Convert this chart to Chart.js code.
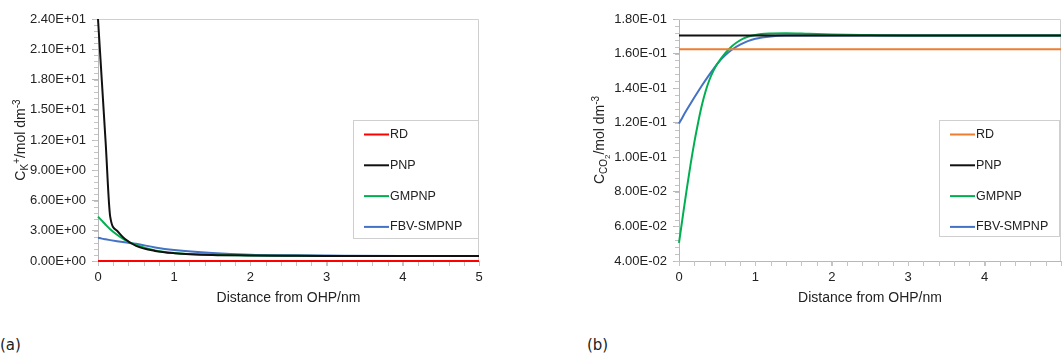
<!DOCTYPE html>
<html>
<head>
<meta charset="utf-8">
<script src="https://cdn.jsdelivr.net/npm/chart.js@4.4.1/dist/chart.umd.min.js"></script>
<style>
  body { margin: 0; background: #fff; }
  #wrap { position: relative; width: 1062px; height: 356px; overflow: hidden; }
  .panel { position: absolute; top: 0; width: 531px; height: 320px; }
  .tag { position: absolute; top: 336px; font: 15px "DejaVu Sans", sans-serif; color: #222; }
</style>
</head>
<body>
<div id="wrap">
  <div class="panel" style="left:0"><canvas id="chartK"></canvas></div>
  <div class="panel" style="left:531px"><canvas id="chartCO2"></canvas></div>
  <div class="tag" style="left:0">(a)</div>
  <div class="tag" style="left:587px">(b)</div>
</div>
<script>
// data
const seriesNames = ['RD', 'PNP', 'GMPNP', 'FBV-SMPNP'];

// (a) K+ concentration
const kDist  = [0, 0.05, 0.1, 0.16, 0.25, 0.35, 0.5, 0.75, 1, 1.5, 2, 2.5, 3, 4, 5];
const kRD    = [0, 0, 0, 0, 0, 0, 0, 0, 0, 0, 0, 0, 0, 0, 0];
const kPNP   = [24, 17.9, 11.8, 4.4, 3.0, 2.2, 1.5, 1.0, 0.78, 0.6, 0.55, 0.52, 0.5, 0.5, 0.5];
const kGMPNP = [4.4, 4.0, 3.6, 3.15, 2.6, 2.1, 1.6, 1.05, 0.8, 0.62, 0.55, 0.52, 0.5, 0.5, 0.5];
const kFBV   = [2.3, 2.22, 2.15, 2.07, 1.96, 1.85, 1.7, 1.35, 1.1, 0.8, 0.63, 0.57, 0.54, 0.5, 0.5];

// (b) CO2 concentration
const cDist  = [0, 0.05, 0.1, 0.15, 0.2, 0.25, 0.3, 0.35, 0.4, 0.45, 0.5, 0.6, 0.7, 0.8, 0.9, 1, 1.2, 1.4, 1.7, 2, 2.5, 3, 4, 5];
const cRD    = [0.1625, 0.1625, 0.1625, 0.1625, 0.1625, 0.1625, 0.1625, 0.1625, 0.1625, 0.1625, 0.1625, 0.1625, 0.1625, 0.1625, 0.1625, 0.1625, 0.1625, 0.1625, 0.1625, 0.1625, 0.1625, 0.1625, 0.1625, 0.1625];
const cPNP   = [0.1705, 0.1705, 0.1705, 0.1705, 0.1705, 0.1705, 0.1705, 0.1705, 0.1705, 0.1705, 0.1705, 0.1705, 0.1705, 0.1705, 0.1705, 0.1705, 0.1705, 0.1705, 0.1705, 0.1705, 0.1705, 0.1705, 0.1705, 0.1705];
const cGMPNP = [0.0505, 0.066, 0.0812, 0.0955, 0.1085, 0.12, 0.1302, 0.1385, 0.145, 0.15, 0.154, 0.16, 0.1645, 0.1677, 0.1697, 0.1708, 0.1716, 0.1718, 0.1714, 0.171, 0.1707, 0.1705, 0.1705, 0.1705];
const cFBV   = [0.1195, 0.1235, 0.1273, 0.131, 0.1346, 0.1381, 0.1415, 0.1448, 0.148, 0.151, 0.154, 0.1588, 0.1625, 0.1652, 0.1672, 0.1686, 0.1699, 0.1704, 0.1705, 0.1705, 0.1705, 0.1705, 0.1705, 0.1705];

const xTicksCO2 = [0, 1, 2, 3, 4];

const FONT = '"Liberation Sans", Arial, sans-serif';
Chart.defaults.font.family = FONT;
Chart.defaults.color = '#222';

function sci(v) {
  const parts = Number(v).toExponential(2).split('e');
  const e = parseInt(parts[1], 10);
  return parts[0] + 'E' + (e < 0 ? '-' : '+') + String(Math.abs(e)).padStart(2, '0');
}

function pts(xs, ys) {
  return xs.map((x, i) => ({ x: x, y: ys[i] }));
}

// box, minor ticks, legend and axis titles
const decor = {
  id: 'decor',
  beforeDatasetsDraw(chart, args, o) {
    const ctx = chart.ctx;
    const a = chart.chartArea;
    const xs = chart.scales.x, ys = chart.scales.y;
    ctx.save();
    ctx.strokeStyle = '#cfcfcf';
    ctx.lineWidth = 1;
    ctx.beginPath();
    ctx.moveTo(a.left, a.top + 0.5);
    ctx.lineTo(a.right - 0.5, a.top + 0.5);
    ctx.lineTo(a.right - 0.5, a.bottom);
    ctx.stroke();

    // minor ticks
    ctx.strokeStyle = '#c4c4c4';
    ctx.beginPath();
    const yStep = o.yStep / 5;
    for (let v = ys.min; v <= ys.max + 1e-9; v += yStep) {
      const p = Math.round(ys.getPixelForValue(v)) + 0.5;
      ctx.moveTo(a.left - 4, p);
      ctx.lineTo(a.left, p);
    }
    for (let v = xs.min; v <= xs.max + 1e-9; v += 0.2) {
      const p = Math.round(xs.getPixelForValue(v)) + 0.5;
      ctx.moveTo(p, a.bottom);
      ctx.lineTo(p, a.bottom + 5);
    }
    ctx.stroke();
    ctx.restore();
  },
  afterDraw(chart, args, o) {
    const ctx = chart.ctx;
    const a = chart.chartArea;
    ctx.save();

    // legend
    const bx = a.right - o.legendRight - o.legendW, by = 120.5;
    ctx.fillStyle = '#fff';
    ctx.fillRect(bx, by, o.legendW, o.legendH);
    ctx.strokeStyle = '#cfcfcf';
    ctx.lineWidth = 1;
    ctx.strokeRect(Math.round(bx) + 0.5, by, o.legendW, o.legendH);
    ctx.font = '12.5px ' + FONT;
    ctx.textBaseline = 'middle';
    chart.data.datasets.forEach((ds, i) => {
      const y = by + 14 + i * 30.8;
      ctx.strokeStyle = ds.borderColor;
      ctx.lineWidth = 2;
      ctx.beginPath();
      ctx.moveTo(bx + 11, y);
      ctx.lineTo(bx + 36, y);
      ctx.stroke();
      ctx.fillStyle = '#222';
      ctx.fillText(ds.label, bx + 37, y);
    });

    // x title
    ctx.font = '14px ' + FONT;
    ctx.textAlign = 'center';
    ctx.textBaseline = 'alphabetic';
    ctx.fillText('Distance from OHP/nm', (a.left + a.right) / 2, 302);

    // y title with sub/superscripts
    const parts = o.yTitle;
    let total = 0;
    parts.forEach(p => { ctx.font = p.size + 'px ' + FONT; p.w = ctx.measureText(p.t).width; total += p.w; });
    ctx.translate(o.titleX, (a.top + a.bottom) / 2);
    ctx.rotate(-Math.PI / 2);
    ctx.textAlign = 'left';
    let x = -total / 2;
    parts.forEach(p => {
      ctx.font = p.size + 'px ' + FONT;
      ctx.fillText(p.t, x, p.dy);
      x += p.w;
    });
    ctx.restore();
  }
};

function makeChart(id, cfg) {
  const ctx = document.getElementById(id).getContext('2d');
  return new Chart(ctx, {
    type: 'line',
    data: {
      datasets: cfg.series.map((s, i) => ({
        label: seriesNames[i],
        data: pts(cfg.xs, s),
        borderColor: cfg.colors[i],
        borderWidth: 2,
        pointRadius: 0,
        cubicInterpolationMode: 'monotone',
        clip: 3
      }))
    },
    options: {
      responsive: true,
      maintainAspectRatio: false,
      animation: false,
      events: [],
      layout: { padding: { top: 19, right: cfg.padRight, left: 0, bottom: 0 } },
      plugins: {
        legend: { display: false },
        tooltip: { enabled: false },
        decor: cfg.decor
      },
      scales: {
        x: {
          type: 'linear',
          min: 0, max: 5,
          border: { color: '#b8b8b8' },
          grid: { drawOnChartArea: false, tickLength: 5, color: '#c4c4c4' },
          ticks: { stepSize: 1, padding: 4, color: '#222', font: { size: 13 }, maxRotation: 0 },
          afterBuildTicks: cfg.xTicks ? (sc) => { sc.ticks = cfg.xTicks.map(v => ({ value: v })); } : undefined,
          afterFit: (sc) => { sc.height = 59; }
        },
        y: {
          min: cfg.yMin, max: cfg.yMax,
          border: { color: '#b8b8b8' },
          grid: { drawOnChartArea: false, tickLength: 6, color: '#b8b8b8' },
          ticks: { stepSize: cfg.decor.yStep, padding: 6, color: '#222', font: { size: 13 }, callback: (v) => sci(v) },
          afterFit: (sc) => { sc.width = cfg.axisW; }
        }
      }
    },
    plugins: [decor]
  });
}

// 1. K+ panel
makeChart('chartK', {
  xs: kDist,
  series: [kRD, kPNP, kGMPNP, kFBV],
  colors: ['#ff0000', '#111111', '#00b050', '#4472c4'],
  yMin: 0, yMax: 24,
  axisW: 98, padRight: 52,
  decor: {
    yStep: 3, legendW: 125, legendH: 118, legendRight: 1, titleX: 25,
    yTitle: [
      { t: 'C', size: 14, dy: 0 },
      { t: 'K', size: 10, dy: 3 },
      { t: '+', size: 10, dy: -5 },
      { t: '/mol dm', size: 14, dy: 0 },
      { t: '-3', size: 10, dy: -5 }
    ]
  }
});

// 2. CO2 panel
makeChart('chartCO2', {
  xs: cDist,
  series: [cRD, cPNP, cGMPNP, cFBV],
  colors: ['#ed7d31', '#111111', '#00b050', '#4472c4'],
  yMin: 0.04, yMax: 0.18,
  axisW: 148, padRight: 1,
  xTicks: xTicksCO2,
  decor: {
    yStep: 0.02, legendW: 120, legendH: 116, legendRight: 2, titleX: 73,
    yTitle: [
      { t: 'C', size: 14, dy: 0 },
      { t: 'CO', size: 10, dy: 3 },
      { t: '2', size: 8, dy: 6 },
      { t: '/mol dm', size: 14, dy: 0 },
      { t: '-3', size: 10, dy: -5 }
    ]
  }
});
</script>
</body>
</html>
